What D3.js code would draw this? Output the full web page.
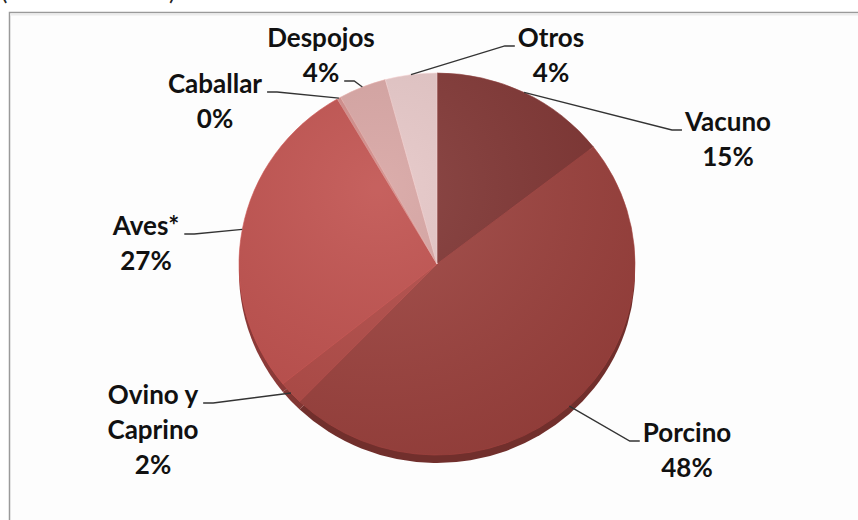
<!DOCTYPE html>
<html>
<head>
<meta charset="utf-8">
<script src="https://cdn.jsdelivr.net/npm/d3@7/dist/d3.min.js"></script>
<style>
  html, body { margin: 0; padding: 0; background: #fff; }
  svg { display: block; }
</style>
</head>
<body>
<div id="chart"></div>
<script>
// data (shares in %)
const categories = ["Vacuno", "Porcino", "Ovino y Caprino", "Aves*", "Caballar", "Despojos", "Otros"];
const shares = [14.5, 47.7, 2.0, 27.4, 0.3, 3.9, 4.2];
const percentLabels = ["15%", "48%", "2%", "27%", "0%", "4%", "4%"];
const labelNames = [["Vacuno"], ["Porcino"], ["Ovino y", "Caprino"], ["Aves*"], ["Caballar"], ["Despojos"], ["Otros"]];
const sliceColors = ["#803533", "#9c413d", "#b24a46", "#c0504d", "#cf8a87", "#d7a4a2", "#e5c6c6"];

// where Excel put each label (first baseline), which side the leader hits
const labelLayout = {
    "Vacuno":          {x: 728, y: 131, side: "left",  line: 0},
    "Porcino":         {x: 687, y: 442, side: "left",  line: 0},
    "Ovino y Caprino": {x: 153, y: 404, side: "right", line: 0},
    "Aves*":           {x: 146, y: 235, side: "right", line: 0},
    "Caballar":        {x: 215, y: 93,  side: "right", line: 0},
    "Despojos":        {x: 321, y: 47,  side: "right", line: 1},
    "Otros":           {x: 551, y: 47,  side: "left",  line: 0}
};

const width = 858, height = 520;
const cx = 437, cy = 264, rx = 198, ry = 191, depth = 8;
const lineGap = 35;

const svg = d3.select("#chart").append("svg")
    .attr("width", width)
    .attr("height", height)
    .style("font-family", "Lato, 'Open Sans', sans-serif");

// cropped caption above the frame
svg.append("text").attr("x", 1).attr("y", 0).attr("font-size", 24).attr("fill", "#222").text("(");
svg.append("text").attr("x", 169).attr("y", 0).attr("font-size", 24).attr("fill", "#222").text(")");

// chart frame (only top and left edges are inside the crop)
svg.append("rect")
    .attr("x", 9.5).attr("y", 12.5)
    .attr("width", width).attr("height", height)
    .attr("fill", "#fdfdfd")
    .attr("stroke", "#9a9a9a")
    .attr("stroke-width", 1.5);
svg.append("line")
    .attr("x1", 10).attr("x2", width).attr("y1", 14.5).attr("y2", 14.5)
    .attr("stroke", "#ececec").attr("stroke-width", 2);

const data = categories.map((c, i) => ({name: c, value: shares[i], pct: percentLabels[i], lines: labelNames[i], color: sliceColors[i]}));

const pie = d3.pie().sort(null).value(d => d.value);
const arcs = pie(data);
const arc = d3.arc().innerRadius(0).outerRadius(rx);

const defs = svg.append("defs");
const shade = defs.append("radialGradient")
    .attr("id", "shade")
    .attr("cx", "35%").attr("cy", "30%").attr("r", "80%");
shade.append("stop").attr("offset", "0%").attr("stop-color", "#fff").attr("stop-opacity", 0.10);
shade.append("stop").attr("offset", "100%").attr("stop-color", "#000").attr("stop-opacity", 0.08);

// 3d rim underneath
svg.append("g")
    .attr("transform", `translate(${cx},${cy + depth}) scale(1,${ry / rx})`)
  .selectAll("path")
  .data(arcs)
  .join("path")
    .attr("d", arc)
    .attr("fill", d => d3.color(d.data.color).darker(0.9));

const face = svg.append("g")
    .attr("transform", `translate(${cx},${cy}) scale(1,${ry / rx})`);

face.selectAll("path")
  .data(arcs)
  .join("path")
    .attr("d", arc)
    .attr("fill", d => d.data.color)
    .attr("stroke", d => d3.color(d.data.color).brighter(0.25))
    .attr("stroke-width", 0.6);

face.append("circle")
    .attr("r", rx)
    .attr("fill", "url(#shade)");

// labels + leader lines
const labels = svg.append("g")
    .attr("fill", "#111")
    .attr("font-size", 26)
    .attr("font-weight", 700)
    .attr("text-anchor", "middle");

arcs.forEach(d => {
    const lay = labelLayout[d.data.name];
    const lines = d.data.lines.concat([d.data.pct]);
    const g = labels.append("g");
    const texts = lines.map((t, i) => g.append("text")
        .attr("x", lay.x)
        .attr("y", lay.y + i * lineGap)
        .text(t));

    const mid = (d.startAngle + d.endAngle) / 2;
    const p0 = [cx + rx * Math.sin(mid), cy - ry * Math.cos(mid)];
    const w = texts[lay.line].node().getComputedTextLength();
    const ty = lay.y + lay.line * lineGap - 1;
    let end, elbow;
    if (lay.side === "left") {
        end = [lay.x - w / 2 - 3, ty];
        elbow = [end[0] - 10, ty];
    } else {
        end = [lay.x + w / 2 + 5, ty];
        elbow = [end[0] + 10, ty];
    }
    svg.append("path")
        .attr("d", d3.line()([p0, elbow, end]))
        .attr("fill", "none")
        .attr("stroke", "#333")
        .attr("stroke-width", 1.3);
});
</script>
</body>
</html>
